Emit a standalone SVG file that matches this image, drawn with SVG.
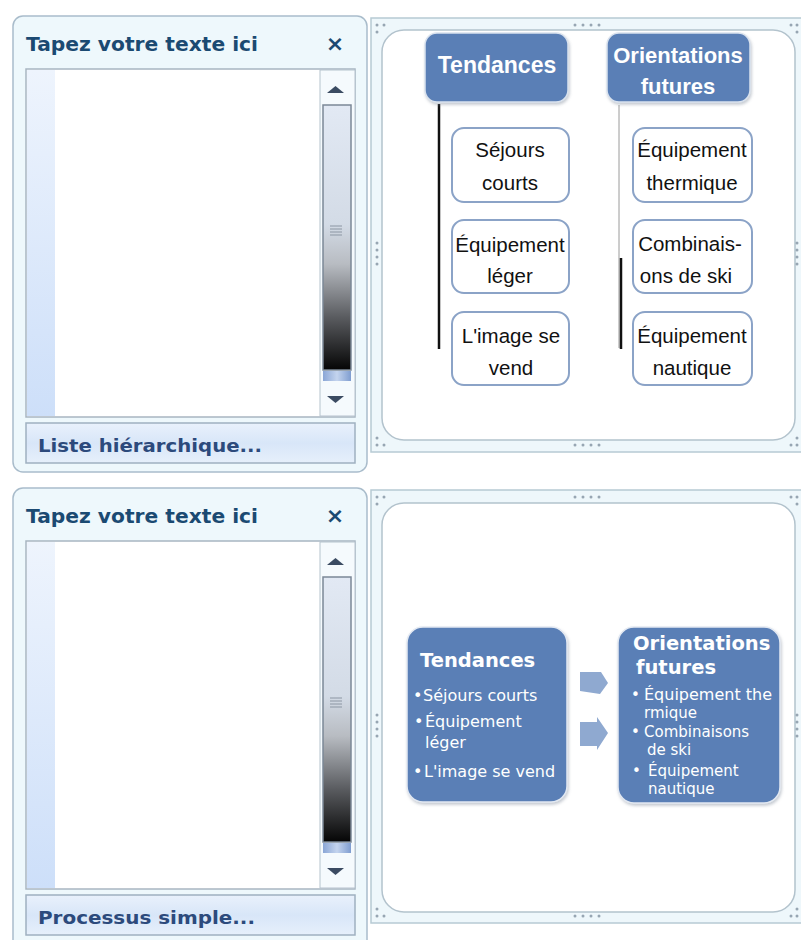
<svg xmlns="http://www.w3.org/2000/svg" width="801" height="940" viewBox="0 0 801 940">
<defs>
<linearGradient id="strip" x1="0" y1="0" x2="0" y2="1"><stop offset="0" stop-color="#eef4fd"/><stop offset="1" stop-color="#cddff9"/></linearGradient>
<linearGradient id="thumb" x1="0" y1="0" x2="0" y2="1"><stop offset="0" stop-color="#e2e9f4"/><stop offset="0.45" stop-color="#d3dbe6"/><stop offset="0.6" stop-color="#b8bcc2"/><stop offset="0.8" stop-color="#5a5c60"/><stop offset="1" stop-color="#050505"/></linearGradient>
<linearGradient id="band" x1="0" y1="0" x2="1" y2="0"><stop offset="0" stop-color="#8aa6d6"/><stop offset="0.5" stop-color="#c4d4ee"/><stop offset="1" stop-color="#7f9dd0"/></linearGradient>
<linearGradient id="btn" x1="0" y1="0" x2="0" y2="1"><stop offset="0" stop-color="#e9f1fc"/><stop offset="0.5" stop-color="#d8e6f8"/><stop offset="1" stop-color="#e6f0fb"/></linearGradient>
<filter id="sh" x="-10%" y="-10%" width="130%" height="130%"><feDropShadow dx="1" dy="2" stdDeviation="1.5" flood-color="#7f8a99" flood-opacity="0.45"/></filter>
<style>
.panel{fill:#eef8fc;stroke:#a9bccb;stroke-width:1.5}
.area{fill:#ffffff;stroke:#a8b5c1;stroke-width:1.5}
.scol{fill:#f5fafd;stroke:#b6c3ce;stroke-width:1}
.tri{fill:#3b4b62}
.title{font-family:"DejaVu Sans",Verdana,sans-serif;font-weight:bold;font-size:19px;fill:#1b4a72}
.btntxt{font-family:"DejaVu Sans",Verdana,sans-serif;font-weight:bold;font-size:17px;fill:#2c4a7c}
.frame{fill:#eef7fb;stroke:#b7cad4;stroke-width:1.5}
.canvas{fill:#ffffff;stroke:#b3c3cd;stroke-width:1.5}
.dot{fill:#97a6b3}
.head{fill:#5a7fb6;stroke:#d9e2ee;stroke-width:1.5}
.headtxt{font-family:"Liberation Sans",Arial,sans-serif;font-weight:bold;fill:#ffffff;text-anchor:middle}
.child{fill:#ffffff;stroke:#8ba3c7;stroke-width:2}
.childtxt{font-family:"Liberation Sans",Arial,sans-serif;font-size:20.5px;fill:#111111;text-anchor:middle}
.big{fill:#5a7fb6;stroke:#e3e9f2;stroke-width:1.5}
.btxt{font-family:"DejaVu Sans",Verdana,sans-serif;font-size:16px;fill:#ffffff}
.btxs{font-family:"DejaVu Sans",Verdana,sans-serif;font-size:15px;fill:#ffffff}
.bhead{font-family:"DejaVu Sans",Verdana,sans-serif;font-weight:bold;font-size:19.5px;fill:#ffffff}
.arrow{fill:#8fa9d0}
</style>
</defs>

<g id="panel-top-left">
<rect class="panel" x="13" y="16" width="354" height="456" rx="10"/>
<text class="title" x="26" y="51" textLength="232" lengthAdjust="spacingAndGlyphs">Tapez votre texte ici</text>
<text x="335" y="51" font-family="DejaVu Sans,sans-serif" font-weight="bold" font-size="22" fill="#1b4a72" text-anchor="middle">×</text>
<rect class="area" x="26" y="69" width="329" height="348"/>
<rect x="27" y="70" width="28" height="346" fill="url(#strip)"/>
<rect class="scol" x="320" y="70" width="35" height="346"/>
<polygon class="tri" points="327,93 344,93 335.5,86"/>
<rect x="323" y="105" width="28" height="265" fill="url(#thumb)" stroke="#7b8897" stroke-width="1.5"/>
<g stroke="#8c96a3" stroke-width="1"><line x1="330" y1="226" x2="342" y2="226"/><line x1="330" y1="229" x2="342" y2="229"/><line x1="330" y1="232" x2="342" y2="232"/><line x1="330" y1="235" x2="342" y2="235"/></g>
<rect x="323" y="371" width="28" height="10" fill="url(#band)"/>
<polygon class="tri" points="327,396 344,396 335.5,403"/>
<rect x="26" y="423" width="329" height="40" fill="url(#btn)" stroke="#9fb0c0" stroke-width="1.5"/>
<text class="btntxt" x="38" y="452" textLength="224" lengthAdjust="spacingAndGlyphs">Liste hiérarchique...</text>
</g>

<g id="panel-bottom-left">
<rect class="panel" x="13" y="488" width="354" height="470" rx="10"/>
<text class="title" x="26" y="523" textLength="232" lengthAdjust="spacingAndGlyphs">Tapez votre texte ici</text>
<text x="335" y="523" font-family="DejaVu Sans,sans-serif" font-weight="bold" font-size="22" fill="#1b4a72" text-anchor="middle">×</text>
<rect class="area" x="26" y="541" width="329" height="348"/>
<rect x="27" y="542" width="28" height="346" fill="url(#strip)"/>
<rect class="scol" x="320" y="542" width="35" height="346"/>
<polygon class="tri" points="327,565 344,565 335.5,558"/>
<rect x="323" y="577" width="28" height="265" fill="url(#thumb)" stroke="#7b8897" stroke-width="1.5"/>
<g stroke="#8c96a3" stroke-width="1"><line x1="330" y1="698" x2="342" y2="698"/><line x1="330" y1="701" x2="342" y2="701"/><line x1="330" y1="704" x2="342" y2="704"/><line x1="330" y1="707" x2="342" y2="707"/></g>
<rect x="323" y="843" width="28" height="10" fill="url(#band)"/>
<polygon class="tri" points="327,868 344,868 335.5,875"/>
<rect x="26" y="895" width="329" height="40" fill="url(#btn)" stroke="#9fb0c0" stroke-width="1.5"/>
<text class="btntxt" x="38" y="924" textLength="217" lengthAdjust="spacingAndGlyphs">Processus simple...</text>
</g>

<g id="frame-top">
<rect class="frame" x="371" y="18" width="445" height="434"/>
<rect class="canvas" x="382" y="30" width="413" height="410" rx="22"/>
<g class="dot">
<circle cx="377" cy="25" r="1.5"/><circle cx="384" cy="25" r="1.5"/><circle cx="377" cy="32" r="1.5"/>
<circle cx="575" cy="25" r="1.5"/><circle cx="583" cy="25" r="1.5"/><circle cx="591" cy="25" r="1.5"/><circle cx="599" cy="25" r="1.5"/>
<circle cx="791" cy="25" r="1.5"/><circle cx="797" cy="25" r="1.5"/><circle cx="797" cy="32" r="1.5"/>
<circle cx="377" cy="243" r="1.5"/><circle cx="377" cy="250" r="1.5"/><circle cx="377" cy="257" r="1.5"/><circle cx="377" cy="264" r="1.5"/>
<circle cx="797" cy="243" r="1.5"/><circle cx="797" cy="250" r="1.5"/><circle cx="797" cy="257" r="1.5"/><circle cx="797" cy="264" r="1.5"/>
<circle cx="377" cy="438" r="1.5"/><circle cx="377" cy="445" r="1.5"/><circle cx="384" cy="445" r="1.5"/>
<circle cx="575" cy="445" r="1.5"/><circle cx="583" cy="445" r="1.5"/><circle cx="591" cy="445" r="1.5"/><circle cx="599" cy="445" r="1.5"/>
<circle cx="797" cy="438" r="1.5"/><circle cx="791" cy="445" r="1.5"/><circle cx="797" cy="445" r="1.5"/>
</g>
</g>

<g id="frame-bottom">
<rect class="frame" x="371" y="490" width="445" height="433"/>
<rect class="canvas" x="382" y="503" width="413" height="409" rx="22"/>
<g class="dot">
<circle cx="377" cy="497" r="1.5"/><circle cx="384" cy="497" r="1.5"/><circle cx="377" cy="504" r="1.5"/>
<circle cx="575" cy="497" r="1.5"/><circle cx="583" cy="497" r="1.5"/><circle cx="591" cy="497" r="1.5"/><circle cx="599" cy="497" r="1.5"/>
<circle cx="791" cy="497" r="1.5"/><circle cx="797" cy="497" r="1.5"/><circle cx="797" cy="504" r="1.5"/>
<circle cx="377" cy="715" r="1.5"/><circle cx="377" cy="722" r="1.5"/><circle cx="377" cy="729" r="1.5"/><circle cx="377" cy="736" r="1.5"/>
<circle cx="797" cy="715" r="1.5"/><circle cx="797" cy="722" r="1.5"/><circle cx="797" cy="729" r="1.5"/><circle cx="797" cy="736" r="1.5"/>
<circle cx="377" cy="909" r="1.5"/><circle cx="377" cy="916" r="1.5"/><circle cx="384" cy="916" r="1.5"/>
<circle cx="575" cy="916" r="1.5"/><circle cx="583" cy="916" r="1.5"/><circle cx="591" cy="916" r="1.5"/><circle cx="599" cy="916" r="1.5"/>
<circle cx="797" cy="909" r="1.5"/><circle cx="791" cy="916" r="1.5"/><circle cx="797" cy="916" r="1.5"/>
</g>
</g>

<g id="connectors">
<line x1="439" y1="104" x2="439" y2="349" stroke="#111111" stroke-width="2.5"/>
<line x1="619" y1="105" x2="619" y2="348" stroke="#9a9a9a" stroke-width="1"/>
<line x1="621" y1="258" x2="621" y2="349" stroke="#111111" stroke-width="2.5"/>
<polygon class="arrow" points="580,672 601,672 608,683 600,694 580,691"/>
<polygon class="arrow" points="580,722 597,722 597,717 608,733 597,750 597,746 580,746"/>
</g>

<g id="node-tendances">
<rect class="head" x="425" y="33" width="143" height="69" rx="12" filter="url(#sh)"/>
<text class="headtxt" x="497" y="73" font-size="23">Tendances</text>
</g>
<g id="node-orientations">
<rect class="head" x="607" y="33" width="143" height="69" rx="12" filter="url(#sh)"/>
<text class="headtxt" x="678" y="63" font-size="22">Orientations</text>
<text class="headtxt" x="678" y="94" font-size="22">futures</text>
</g>
<g id="node-sejours">
<rect class="child" x="452" y="128" width="117" height="74" rx="12"/>
<text class="childtxt" x="510" y="157">Séjours</text>
<text class="childtxt" x="510" y="190">courts</text>
</g>
<g id="node-equip-leger">
<rect class="child" x="452" y="220" width="117" height="73" rx="12"/>
<text class="childtxt" x="510" y="252">Équipement</text>
<text class="childtxt" x="510" y="283">léger</text>
</g>
<g id="node-image">
<rect class="child" x="452" y="312" width="117" height="73" rx="12"/>
<text class="childtxt" x="511" y="343">L'image se</text>
<text class="childtxt" x="511" y="375">vend</text>
</g>
<g id="node-thermique">
<rect class="child" x="633" y="128" width="119" height="74" rx="12"/>
<text class="childtxt" x="692" y="157">Équipement</text>
<text class="childtxt" x="692" y="190">thermique</text>
</g>
<g id="node-combinaisons">
<rect class="child" x="633" y="220" width="119" height="73" rx="12"/>
<text class="childtxt" x="690" y="251">Combinais-</text>
<text class="childtxt" x="686" y="283">ons de ski</text>
</g>
<g id="node-nautique">
<rect class="child" x="633" y="312" width="119" height="73" rx="12"/>
<text class="childtxt" x="692" y="343">Équipement</text>
<text class="childtxt" x="692" y="375">nautique</text>
</g>

<g id="node-tendances-process">
<rect class="big" x="407" y="627" width="160" height="175" rx="16" filter="url(#sh)"/>
<text class="bhead" x="420" y="667">Tendances</text>
<text class="btxt" x="413" y="701">•</text><text class="btxt" x="423" y="701">Séjours courts</text>
<text class="btxt" x="414" y="727">•</text><text class="btxt" x="425" y="727">Équipement</text>
<text class="btxt" x="425" y="748">léger</text>
<text class="btxt" x="413" y="777">•</text><text class="btxt" x="424" y="777">L'image se vend</text>
</g>
<g id="node-orientations-process">
<rect class="big" x="618" y="627" width="162" height="176" rx="16" filter="url(#sh)"/>
<text class="bhead" x="633" y="650">Orientations</text>
<text class="bhead" x="636" y="674">futures</text>
<text class="btxs" x="631" y="700">•</text><text class="btxs" x="644" y="700" textLength="128" lengthAdjust="spacingAndGlyphs">Équipement the</text>
<text class="btxs" x="644" y="718">rmique</text>
<text class="btxs" x="631" y="737">•</text><text class="btxs" x="644" y="737">Combinaisons</text>
<text class="btxs" x="647" y="755">de ski</text>
<text class="btxs" x="632" y="776">•</text><text class="btxs" x="648" y="776">Équipement</text>
<text class="btxs" x="648" y="794">nautique</text>
</g>
</svg>
